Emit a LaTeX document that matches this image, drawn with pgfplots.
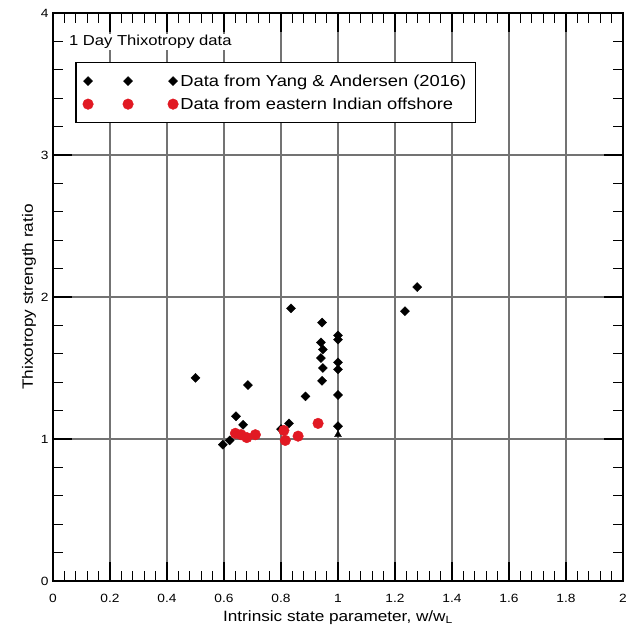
\documentclass[border=0pt]{standalone}
\usepackage{fontspec}
\setmainfont[FakeStretch=1.15]{Liberation Sans}
\usepackage{pgfplots}
\pgfplotsset{compat=1.18}
\definecolor{gridgray}{gray}{0.45}
\definecolor{mred}{RGB}{225,25,35}
\begin{document}
\begin{tikzpicture}
\useasboundingbox (0,0) rectangle (627bp,631bp);
\begin{axis}[
  at={(53bp,50bp)}, anchor=south west,
  scale only axis, width=570bp, height=568bp,
  xmin=0, xmax=2, ymin=0, ymax=4,
  xtick={0,0.2,0.4,0.6,0.8,1,1.2,1.4,1.6,1.8,2},
  ytick={0,1,2,3,4},
  minor x tick num=4, minor y tick num=4,
  xmajorgrids, ymajorgrids,
  major grid style={gridgray, line width=1.1bp},
  axis line style={line width=2bp},
  major tick length=19bp, minor tick length=10bp,
  every major tick/.style={black, line width=2.2bp},
  every minor tick/.style={black, line width=1.3bp},
  tick label style={font=\fontsize{12}{14}\selectfont},
  /pgf/number format/assume math mode=true,
  xticklabel style={yshift=-10bp},
  yticklabel style={xshift=-1bp},
  xlabel={Intrinsic state parameter, w/w\textsubscript{L}},
  ylabel={Thixotropy strength ratio},
  label style={font=\fontsize{15}{17}\selectfont},
  xlabel style={yshift=-1bp},
  ylabel style={yshift=-2bp},
  legend style={at={(rel axis cs:0.0386,0.914)}, anchor=north west,
    draw=black, line width=1.5bp, fill=white,
    font=\fontsize{16}{18}\selectfont, row sep=6bp,
    inner xsep=7bp, inner ysep=10bp},
  legend cell align=left,
]
\addplot[only marks, mark=square*, mark size=3.2bp, black,
  mark options={rotate=45, line width=0.4bp},
  legend image code/.code={\draw[only marks] plot coordinates {(0bp,0bp)(40bp,0bp)(85bp,0bp)};}]
coordinates {
(0.50,1.43)(0.596,0.96)(0.62,0.99)(0.642,1.16)(0.667,1.10)(0.684,1.38)
(0.80,1.07)(0.828,1.11)(0.835,1.92)(0.886,1.30)
(0.944,1.82)(0.94,1.68)(0.947,1.63)(0.94,1.57)(0.947,1.50)(0.944,1.41)
(1.0,1.73)(1.0,1.70)(1.0,1.54)(1.0,1.49)(1.0,1.31)(1.0,1.09)
(1.235,1.90)(1.278,2.07)
};
\addlegendentry{Data from Yang \& Andersen (2016)}
\addplot[only marks, mark=triangle*, mark size=4bp, black, forget plot]
coordinates {(1.0,1.03)};
\addplot[only marks, mark=*, mark size=5.3bp, mred, draw=mred,
  mark options={line width=0.4bp},
  legend image code/.code={\draw[only marks] plot coordinates {(0bp,0bp)(40bp,0bp)(85bp,0bp)};}]
coordinates {
(0.64,1.04)(0.66,1.03)(0.68,1.01)(0.71,1.03)(0.81,1.06)(0.815,0.99)(0.86,1.02)(0.93,1.11)
};
\addlegendentry{Data from eastern Indian offshore}
\node[anchor=west, fill=white, inner sep=1bp, font=\fontsize{14.5}{17}\selectfont]
  at (rel axis cs:0.026,0.949) {1 Day Thixotropy data};
\end{axis}
\end{tikzpicture}
\end{document}
